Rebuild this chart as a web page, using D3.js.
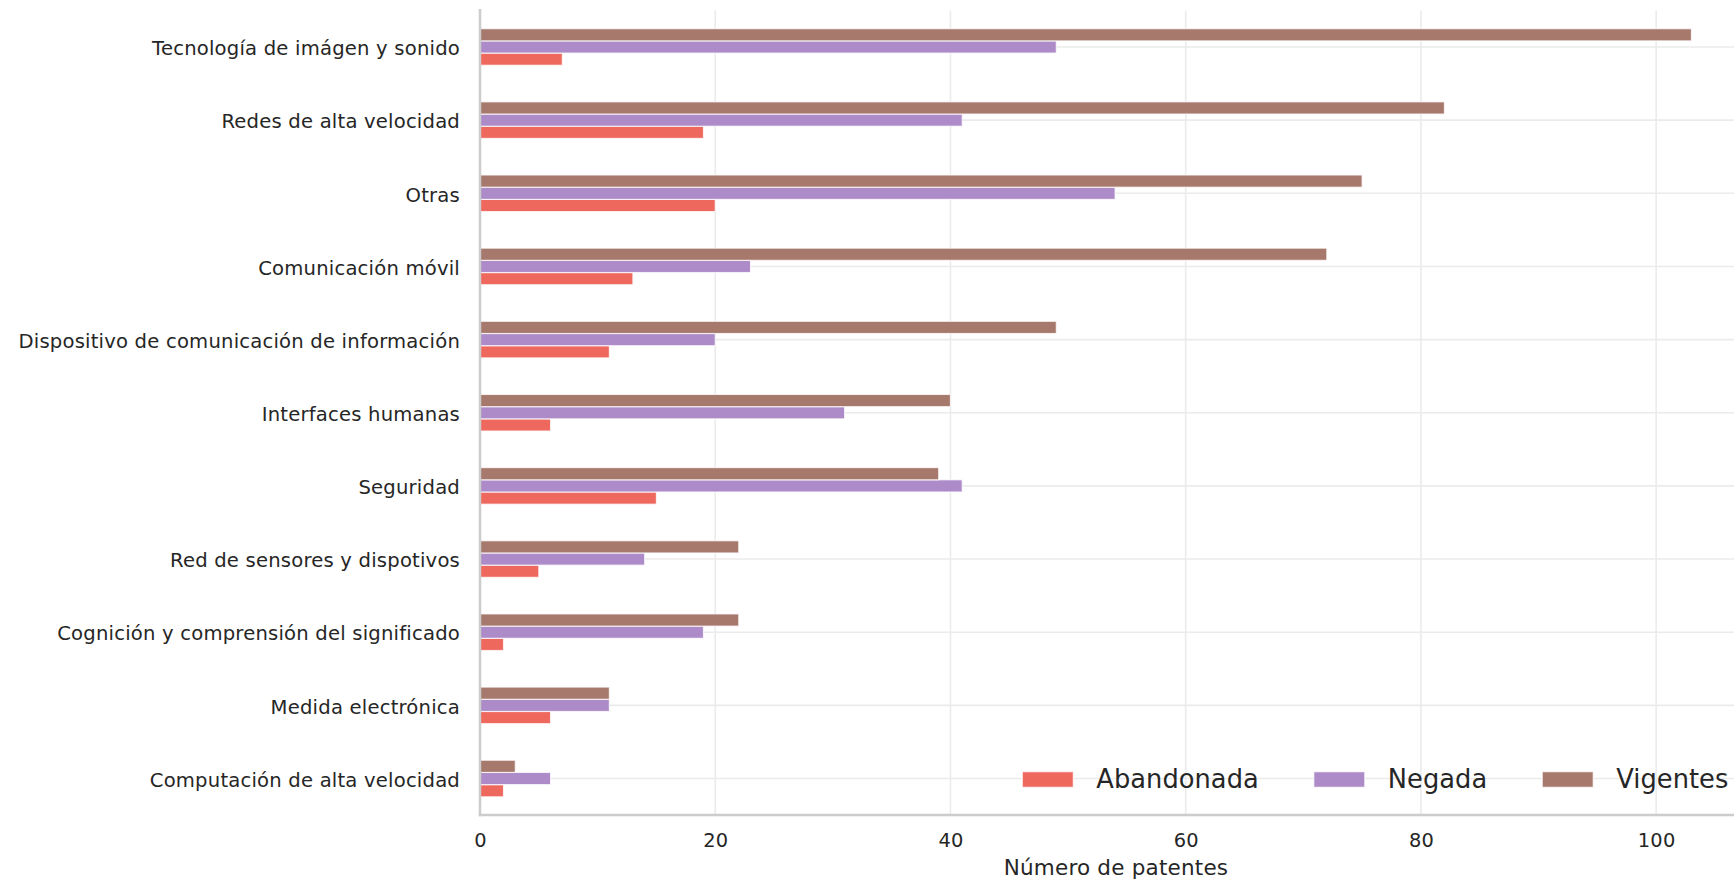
<!DOCTYPE html>
<html>
<head>
<meta charset="utf-8">
<script src="https://cdn.jsdelivr.net/npm/d3@7"></script>
<style>
  html, body { margin: 0; padding: 0; background: #ffffff; }
  svg { display: block; }
  text { font-family: "DejaVu Sans", sans-serif; fill: #262626; }
</style>
</head>
<body>
<svg id="chart" width="1734" height="881"></svg>
<script>
// Categories, top to bottom
const categories = [
  "Tecnología de imágen y sonido",
  "Redes de alta velocidad",
  "Otras",
  "Comunicación móvil",
  "Dispositivo de comunicación de información",
  "Interfaces humanas",
  "Seguridad",
  "Red de sensores y dispotivos",
  "Cognición y comprensión del significado",
  "Medida electrónica",
  "Computación de alta velocidad"
];
const seriesNames = ["Abandonada", "Negada", "Vigentes"];
const abandonada = [7, 19, 20, 13, 11, 6, 15, 5, 2, 6, 2];
const negada     = [49, 41, 54, 23, 20, 31, 41, 14, 19, 11, 6];
const vigentes   = [103, 82, 75, 72, 49, 40, 39, 22, 22, 11, 3];
const colors = ["#ee685e", "#ad8ac8", "#a7786c"];
const xTickValues = [0, 20, 40, 60, 80, 100];
const xLabel = "Número de patentes";

const seriesValues = [abandonada, negada, vigentes];
const svg = d3.select("#chart");

const plotLeft = 480, plotRight = 1752, plotTop = 10.4, plotBottom = 815.1;
const xMax = d3.max(vigentes) * 1.05;

const x = d3.scaleLinear().domain([0, xMax]).range([plotLeft, plotRight]);
const y = d3.scaleBand().domain(categories).range([plotTop, plotBottom]).padding(0);
// Sub-band: top to bottom -> Vigentes, Negada, Abandonada
const sub = d3.scaleBand()
  .domain(["Vigentes", "Negada", "Abandonada"])
  .range([0, y.bandwidth() * 0.5]);

// Grid lines
const grid = svg.append("g");
grid.selectAll("line.vg").data(xTickValues).join("line")
  .attr("x1", d => x(d)).attr("x2", d => x(d))
  .attr("y1", plotTop).attr("y2", plotBottom)
  .attr("stroke", "#ebebeb").attr("stroke-width", 1.6);
grid.selectAll("line.hg").data(categories).join("line")
  .attr("x1", plotLeft).attr("x2", plotRight)
  .attr("y1", d => y(d) + y.bandwidth() / 2).attr("y2", d => y(d) + y.bandwidth() / 2)
  .attr("stroke", "#ebebeb").attr("stroke-width", 1.6);

// Bars
const barsG = svg.append("g");
seriesNames.forEach((name, si) => {
  const vals = seriesValues[si];
  barsG.append("g").selectAll("rect").data(categories).join("rect")
    .attr("x", x(0))
    .attr("y", (d) => y(d) + y.bandwidth() * 0.25 + sub(name))
    .attr("width", (d, i) => x(vals[i]) - x(0))
    .attr("height", sub.bandwidth())
    .attr("fill", colors[si])
    .attr("stroke", "#ffffff")
    .attr("stroke-opacity", 0.75)
    .attr("stroke-width", 1.2);
});

// Spines
svg.append("line").attr("x1", plotLeft).attr("x2", plotLeft)
  .attr("y1", plotTop - 1.4).attr("y2", plotBottom + 1.2)
  .attr("stroke", "#cccccc").attr("stroke-width", 2.5);
svg.append("line").attr("x1", plotLeft - 1.2).attr("x2", plotRight)
  .attr("y1", plotBottom).attr("y2", plotBottom)
  .attr("stroke", "#cccccc").attr("stroke-width", 2.5);

// X axis
const xAxis = d3.axisBottom(x).tickValues(xTickValues).tickSize(0).tickPadding(18)
  .tickFormat(d3.format("d"));
const gx = svg.append("g").attr("transform", `translate(0,${plotBottom})`).call(xAxis);
gx.select(".domain").remove();
gx.selectAll("text").attr("font-size", 19.4).attr("font-family", "DejaVu Sans")
  .attr("fill", "#262626").attr("letter-spacing", "0.2px");

// Y axis
const yAxis = d3.axisLeft(y).tickSize(0).tickPadding(20);
const gy = svg.append("g").attr("transform", `translate(${plotLeft},0)`).call(yAxis);
gy.select(".domain").remove();
gy.selectAll("text").attr("font-size", 19.6).attr("font-family", "DejaVu Sans")
  .attr("fill", "#262626").attr("letter-spacing", "0.2px").attr("dy", "0.42em");

// X label
svg.append("text")
  .attr("x", (plotLeft + plotRight) / 2)
  .attr("y", 875)
  .attr("text-anchor", "middle")
  .attr("font-size", 21.5)
  .attr("letter-spacing", "0.2px")
  .text(xLabel);

// Legend
const legend = svg.append("g");
let lx = 1022.3;
seriesNames.forEach((name, si) => {
  legend.append("rect")
    .attr("x", lx).attr("y", 771.7)
    .attr("width", 51).attr("height", 15.6)
    .attr("fill", colors[si])
    .attr("stroke", "#ffffff").attr("stroke-opacity", 0.75).attr("stroke-width", 1.2);
  const t = legend.append("text")
    .attr("x", lx + 74).attr("y", 788.3)
    .attr("font-size", 25.7)
    .attr("letter-spacing", "0.05px")
    .text(name);
  lx = lx + 74 + t.node().getComputedTextLength() + 55;
});
</script>
</body>
</html>
